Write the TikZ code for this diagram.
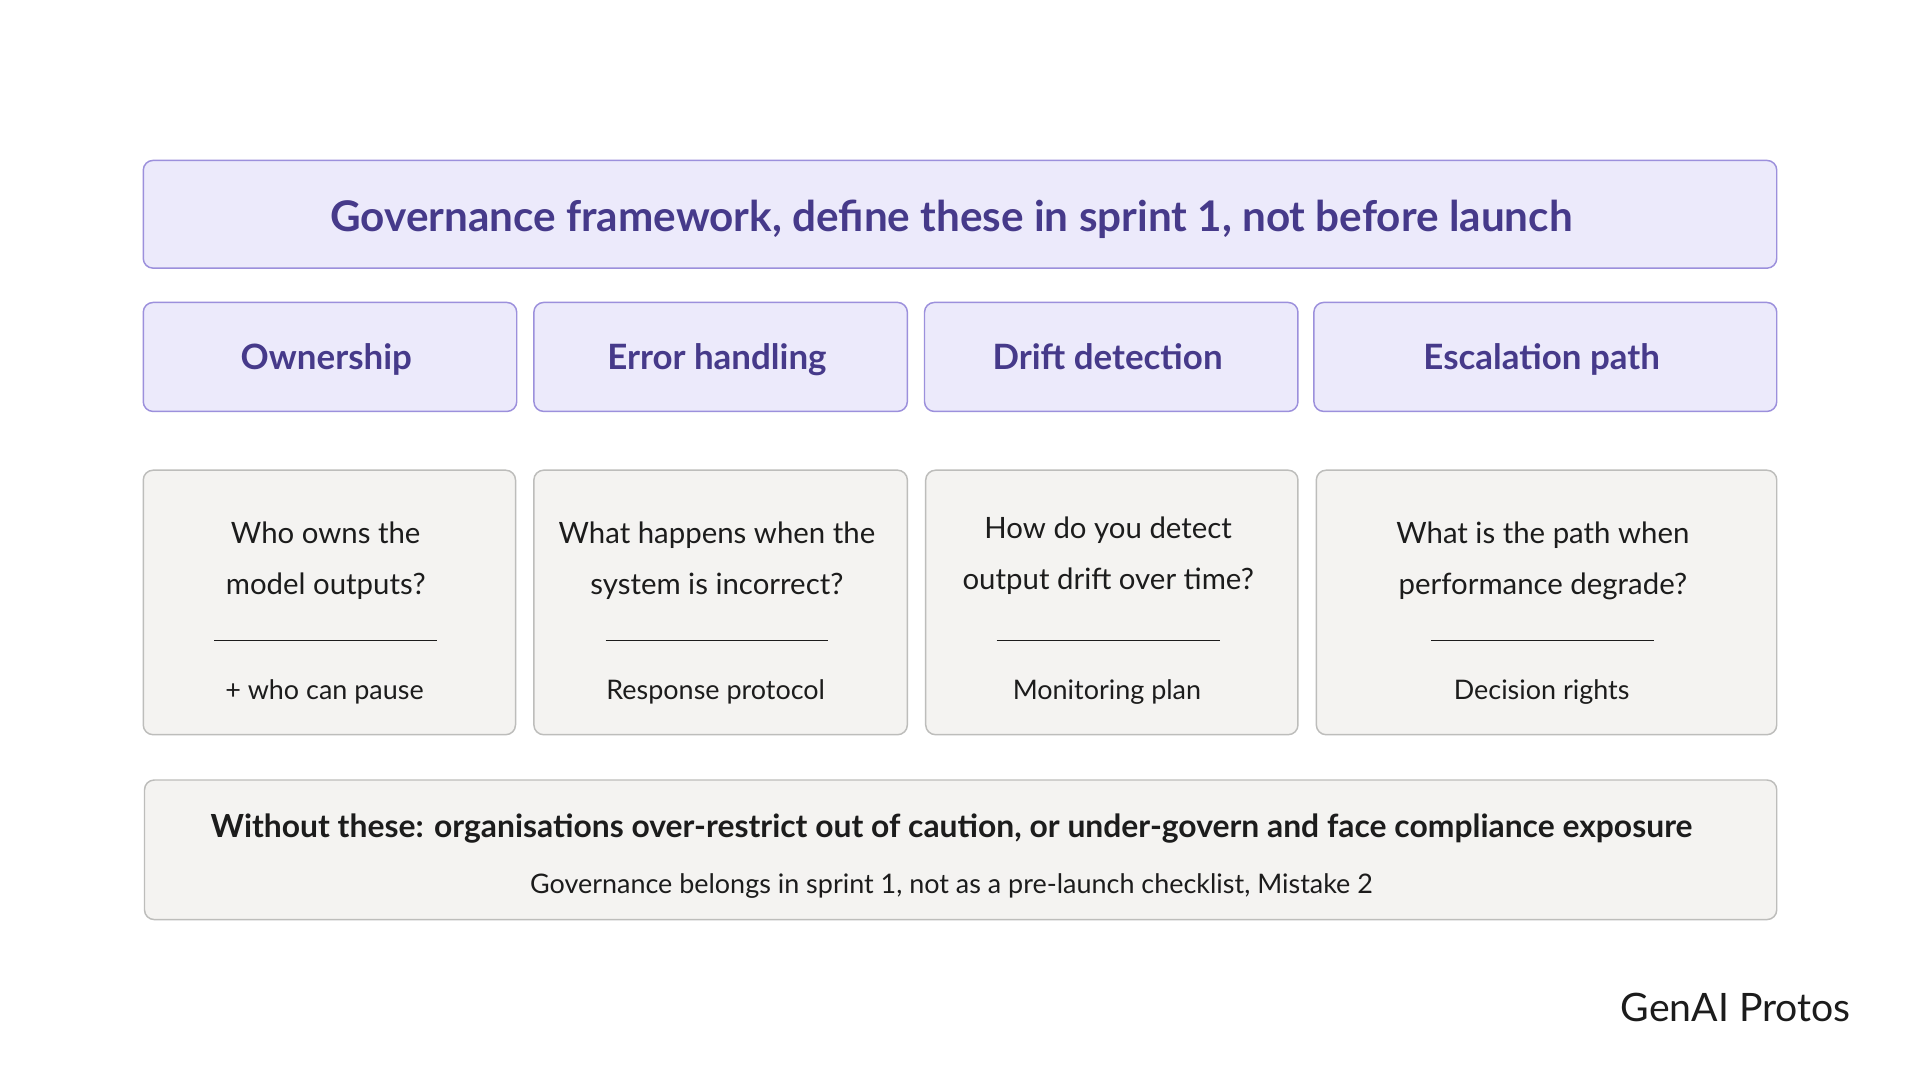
\documentclass[tikz,border=0pt]{standalone}
\usepackage{fontspec}
\setmainfont{Lato}
\definecolor{hfill}{HTML}{ECEAFB}
\definecolor{hdraw}{HTML}{9C90DC}
\definecolor{htext}{HTML}{463A8A}
\definecolor{cfill}{HTML}{F4F3F1}
\definecolor{cdraw}{HTML}{BDBDBB}
\definecolor{ink}{HTML}{1C1C1C}
\tikzset{
 hbox/.style={draw=hdraw,fill=hfill,rounded corners=8pt,line width=1.2pt},
 cbox/.style={draw=cdraw,fill=cfill,rounded corners=8pt,line width=1.2pt},
 htxt/.style={text=htext,font=\fontsize{28.5}{32}\selectfont\bfseries,text height=0.72em,text depth=0.2em},
 qtxt/.style={text=ink,font=\fontsize{24}{42}\selectfont,align=center},
 atxt/.style={text=ink,font=\fontsize{22}{26}\selectfont},
}
\begin{document}
\begin{tikzpicture}[x=1pt,y=-1pt]
\useasboundingbox (0,0) rectangle (1568,882);
\fill[white] (0,0) rectangle (1568,882);
\draw[hbox] (117,131) rectangle (1451,219);
\node[text=htext,font=\fontsize{34.5}{38}\selectfont\bfseries] (title) at (777,179) {Governance framework, define these in sprint 1, not before launch};
\foreach \a/\b/\n/\t in {117/422/h1/Ownership,436/741/h2/Error handling,755/1060/h3/Drift detection,1073/1451/h4/Escalation path}{
  \draw[hbox] (\a,247) rectangle (\b,336);
  \node[htxt] (\n) at ({(\a+\b)/2-3},299) {\t};
}
\foreach \a/\b/\n/\q/\r/\y in {117/421/c1/{Who owns the\\model outputs?}/{+ who can pause}/458,
  436/741/c2/{What happens when the\\system is incorrect?}/{Response protocol}/458,
  756/1060/c3/{How do you detect\\output drift over time?}/{Monitoring plan}/454,
  1075/1451/c4/{What is the path when\\performance degrade?}/{Decision rights}/458}{
  \draw[cbox] (\a,384) rectangle (\b,600);
  \node[qtxt] (\n q) at ({(\a+\b)/2-3},\y) {\q};
  \coordinate (\n l) at ({(\a+\b)/2-94},523);
  \coordinate (\n m) at ({(\a+\b)/2+88},523);
  \draw[ink,line width=1pt] (\n l) -- (\n m);
  \node[atxt] (\n a) at ({(\a+\b)/2-4},565) {\r};
}
\draw[cbox] (118,637) rectangle (1451,751);
\node[text=ink,font=\fontsize{26}{30}\selectfont\bfseries] (f1) at (777,677) {Without these: organisations over-restrict out of caution, or under-govern and face compliance exposure};
\node[atxt] (f2) at (777,724) {Governance belongs in sprint 1, not as a pre-launch checklist, Mistake 2};
\node[text=ink,font=\fontsize{32}{36}\selectfont,anchor=east] (logo) at (1515,823) {GenAI Protos};
\end{tikzpicture}
\end{document}
